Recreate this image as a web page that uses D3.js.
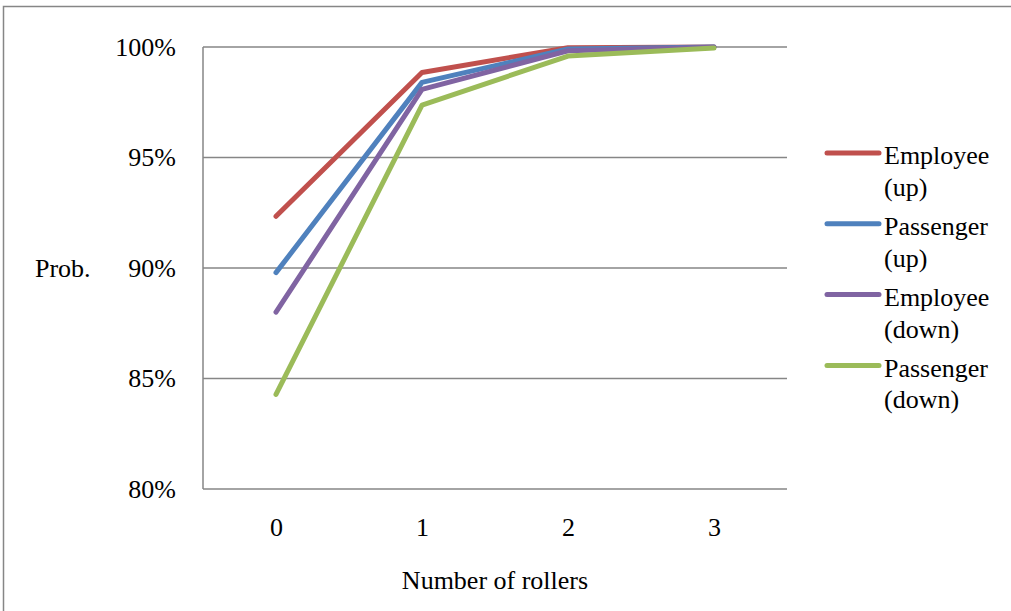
<!DOCTYPE html>
<html>
<head>
<meta charset="utf-8">
<script src="https://cdn.jsdelivr.net/npm/d3@7"></script>
<style>
  html, body { margin: 0; padding: 0; background: #fff; overflow: hidden; }
  svg { display: block; overflow: hidden; }
</style>
</head>
<body>
<svg id="chart" width="1011" height="611"></svg>
<script>
// Number of rollers on the x axis
const categories = ["0", "1", "2", "3"];

// Probability per scenario (fraction)
const seriesNames = ["Employee (up)", "Passenger (up)", "Employee (down)", "Passenger (down)"];
const employeeUp = [0.9234, 0.9885, 0.9997, 1.0000];
const passengerUp = [0.8979, 0.9840, 0.9991, 1.0000];
const employeeDown = [0.8800, 0.9808, 0.9983, 0.9999];
const passengerDown = [0.8428, 0.9737, 0.9959, 0.9995];
const seriesColors = ["#C0504D", "#4F81BD", "#8064A2", "#9BBB59"];

const yTicks = [0.80, 0.85, 0.90, 0.95, 1.00];

const seriesValues = [employeeUp, passengerUp, employeeDown, passengerDown];
const series = seriesNames.map((name, i) => ({ name, color: seriesColors[i], values: seriesValues[i] }));

const FONT = "Liberation Serif, Tinos, DejaVu Serif, serif";
const FS = "26px";
const svg = d3.select("#chart");
const plot = { left: 203, right: 787, top: 47, bottom: 489 };

// Outer chart frame (top and left edges visible)
svg.append("path")
  .attr("d", "M3.5,611 L3.5,6.5 L1011,6.5")
  .attr("fill", "none").attr("stroke", "#868686").attr("stroke-width", 1.5);

const x = d3.scalePoint().domain(categories).range([plot.left, plot.right]).padding(0.5);
const y = d3.scaleLinear().domain([0.80, 1.00]).range([plot.bottom, plot.top]);

// Horizontal gridlines
svg.append("g")
  .selectAll("line")
  .data(yTicks)
  .join("line")
  .attr("x1", plot.left).attr("x2", plot.right)
  .attr("y1", d => y(d)).attr("y2", d => y(d))
  .attr("stroke", "#868686").attr("stroke-width", 1.5);

// Vertical axis line
svg.append("line")
  .attr("x1", plot.left).attr("x2", plot.left)
  .attr("y1", plot.top).attr("y2", plot.bottom)
  .attr("stroke", "#868686").attr("stroke-width", 1.5);

// Y axis labels
const yAxis = d3.axisLeft(y).tickValues(yTicks).tickFormat(d3.format(".0%")).tickSize(0).tickPadding(27);
const gy = svg.append("g").attr("transform", `translate(${plot.left},0)`).call(yAxis)
  .attr("font-family", null).attr("font-size", null);
gy.select(".domain").remove();
gy.selectAll("text").style("font-family", FONT).style("font-size", FS).attr("fill", "#000");

// X axis labels
const xAxis = d3.axisBottom(x).tickSize(0).tickPadding(29);
const gx = svg.append("g").attr("transform", `translate(0,${plot.bottom})`).call(xAxis)
  .attr("font-family", null).attr("font-size", null);
gx.select(".domain").remove();
gx.selectAll("text").style("font-family", FONT).style("font-size", FS).attr("fill", "#000");

// Axis titles
svg.append("text")
  .attr("x", 35).attr("y", 268).attr("dy", "0.35em")
  .style("font-family", FONT).style("font-size", FS)
  .text("Prob.");

svg.append("text")
  .attr("x", 495).attr("y", 580).attr("dy", "0.35em")
  .attr("text-anchor", "middle")
  .style("font-family", FONT).style("font-size", FS)
  .text("Number of rollers");

// Series lines
const line = d3.line()
  .x((d, i) => x(categories[i]))
  .y(d => y(d));

svg.append("g")
  .selectAll("path")
  .data(series)
  .join("path")
  .attr("d", d => line(d.values))
  .attr("fill", "none")
  .attr("stroke", d => d.color)
  .attr("stroke-width", 5)
  .attr("stroke-linejoin", "round")
  .attr("stroke-linecap", "round");

// Legend
const legend = svg.append("g");
const items = legend.selectAll("g")
  .data(series)
  .join("g")
  .attr("transform", (d, i) => `translate(0,${153 + i * 70.8})`);

items.append("line")
  .attr("x1", 827).attr("x2", 879)
  .attr("y1", 0).attr("y2", 0)
  .attr("stroke", d => d.color)
  .attr("stroke-width", 5)
  .attr("stroke-linecap", "round");

items.append("text")
  .style("font-family", FONT).style("font-size", FS)
  .each(function (d) {
    const parts = d.name.split(" ");
    const t = d3.select(this);
    t.append("tspan").attr("x", 884).attr("y", 2).attr("dy", "0.35em").text(parts[0]);
    t.append("tspan").attr("x", 884).attr("y", 34).attr("dy", "0.35em").text(parts[1]);
  });
</script>
</body>
</html>
